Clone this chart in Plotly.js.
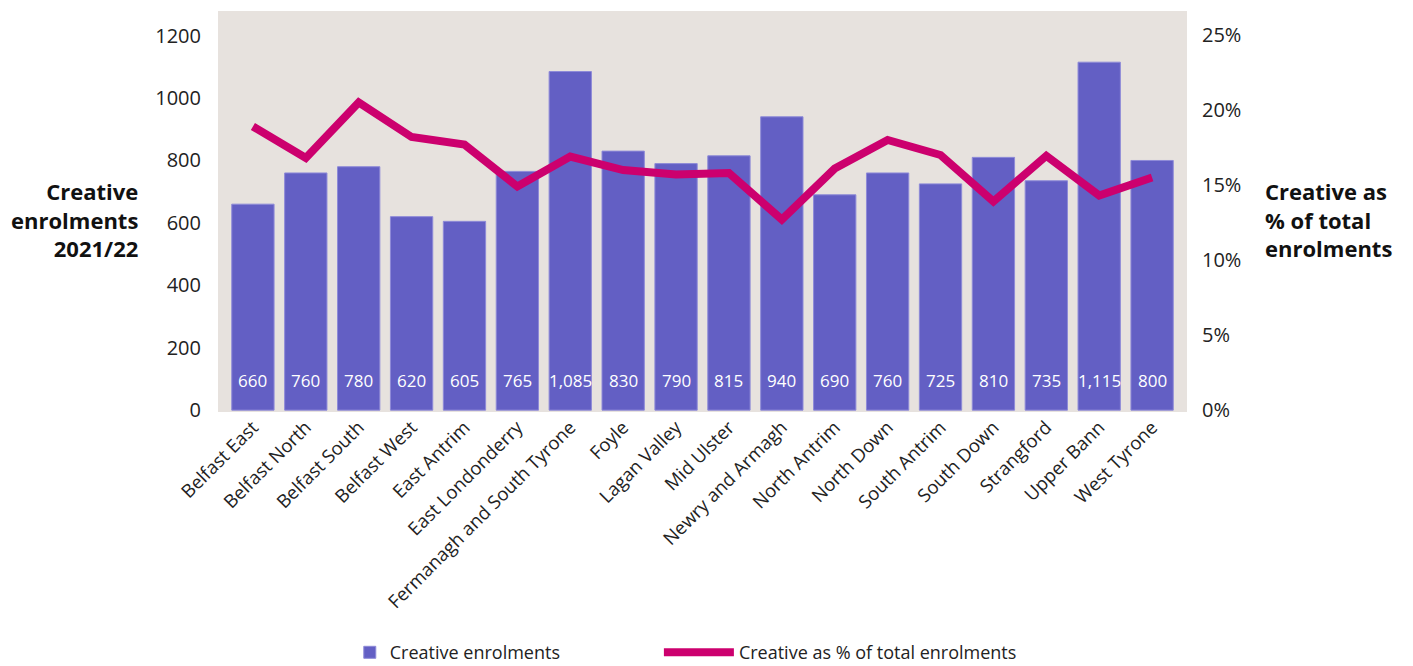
<!DOCTYPE html>
<html>
<head>
<meta charset="utf-8">
<script src="https://cdn.plot.ly/plotly-3.0.1.min.js"></script>
<style>html,body{margin:0;padding:0;background:#fff;}#chart{width:1413px;height:666px;}</style>
</head>
<body>
<div id="chart"></div>
<script>
const categories = ["Belfast East","Belfast North","Belfast South","Belfast West","East Antrim","East Londonderry","Fermanagh and South Tyrone","Foyle","Lagan Valley","Mid Ulster","Newry and Armagh","North Antrim","North Down","South Antrim","South Down","Strangford","Upper Bann","West Tyrone"];
const enrolments = [660,760,780,620,605,765,1085,830,790,815,940,690,760,725,810,735,1115,800];
const creativePct = [18.9,16.8,20.5,18.2,17.7,14.9,16.9,16.0,15.7,15.8,12.7,16.1,18.0,17.0,13.9,16.95,14.3,15.5];
const leftTicks = [0,200,400,600,800,1000,1200];
const rightTicks = [0,5,10,15,20,25];
const rightTickText = ["0%","5%","10%","15%","20%","25%"];

const FONT = "'Open Sans', Lato, sans-serif";
const barColor = "#635fc4";
const lineColor = "#cc006e";

const traces = [
  {
    type: "bar",
    name: "Creative enrolments",
    x: categories,
    y: enrolments,
    marker: {color: barColor, line: {color: "#8e8ad8", width: 1}},
    legend: "legend",
    hoverinfo: "skip"
  },
  {
    type: "scatter",
    mode: "lines",
    name: "Creative as % of total enrolments",
    x: categories,
    y: creativePct,
    yaxis: "y2",
    line: {color: lineColor, width: 8},
    legend: "legend2",
    hoverinfo: "skip"
  }
];

const annotations = categories.map((c, i) => ({
  x: c, y: 0, xref: "x", yref: "y",
  text: enrolments[i].toLocaleString("en-US"),
  showarrow: false, yanchor: "middle", yshift: 30,
  font: {family: FONT, size: 17, color: "#ffffff"}
}));
annotations.push({
  xref: "paper", yref: "paper", x: -0.081, y: 0.48,
  xanchor: "right", yanchor: "middle", align: "right",
  text: "<b>Creative<br>enrolments<br>2021/22</b>", showarrow: false,
  font: {family: FONT, size: 22, color: "#111"}
});
annotations.push({
  xref: "paper", yref: "paper", x: 1.078, y: 0.48,
  xanchor: "left", yanchor: "middle", align: "left",
  text: "<b>Creative as<br>% of total<br>enrolments</b>", showarrow: false,
  font: {family: FONT, size: 22, color: "#111"}
});

const legendFont = {family: FONT, size: 18, color: "#222"};

const layout = {
  width: 1413, height: 666,
  margin: {l: 218, r: 226, t: 11, b: 254, autoexpand: false},
  paper_bgcolor: "#ffffff",
  plot_bgcolor: "#e7e2de",
  font: {family: FONT, color: "#222"},
  bargap: 0.2,
  showlegend: true,
  legend: {
    orientation: "h", x: 0.136, xanchor: "left", y: -0.6, yanchor: "middle",
    font: legendFont, itemwidth: 30
  },
  legend2: {
    orientation: "h", x: 0.455, xanchor: "left", y: -0.6, yanchor: "middle",
    font: legendFont, itemwidth: 70
  },
  xaxis: {
    type: "category", range: [-0.66, 17.66],
    tickangle: -45, tickfont: {family: FONT, size: 18.5, color: "#222"},
    showgrid: false, zeroline: false, showline: false, ticks: ""
  },
  yaxis: {
    range: [-6, 1279], tickvals: leftTicks,
    tickfont: {family: FONT, size: 20, color: "#222"},
    showgrid: false, zeroline: false, showline: false,
    ticks: "outside", ticklen: 12, tickcolor: "rgba(0,0,0,0)"
  },
  yaxis2: {
    overlaying: "y", side: "right",
    range: [-0.13, 26.6], tickvals: rightTicks, ticktext: rightTickText,
    tickfont: {family: FONT, size: 20, color: "#222"},
    showgrid: false, zeroline: false, showline: false,
    ticks: "outside", ticklen: 10, tickcolor: "rgba(0,0,0,0)"
  },
  annotations: annotations
};

Plotly.newPlot("chart", traces, layout, {displayModeBar: false, staticPlot: true});
</script>
</body>
</html>
